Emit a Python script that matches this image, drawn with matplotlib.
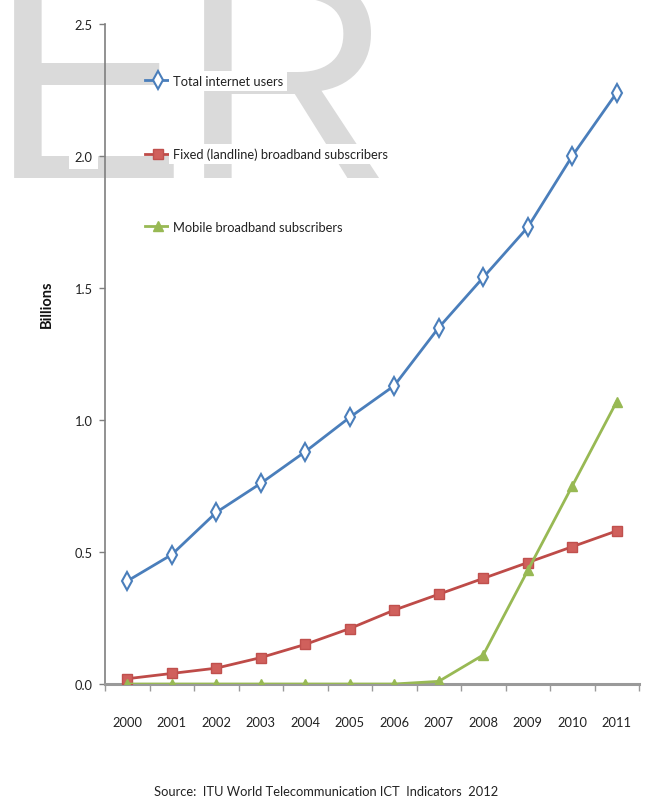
import matplotlib
matplotlib.use("Agg")
import matplotlib.pyplot as plt
import numpy as np

years = ["2000", "2001", "2002", "2003", "2004", "2005", "2006", "2007", "2008", "2009", "2010", "2011"]
total_users = [0.39, 0.49, 0.65, 0.76, 0.88, 1.01, 1.13, 1.35, 1.54, 1.73, 2.00, 2.24]
fixed_bb = [0.02, 0.04, 0.06, 0.10, 0.15, 0.21, 0.28, 0.34, 0.40, 0.46, 0.52, 0.58]
mobile_bb = [0.0, 0.0, 0.0, 0.0, 0.0, 0.0, 0.0, 0.01, 0.11, 0.43, 0.75, 1.07]
series_names = ["Total internet users", "Fixed (landline) broadband subscribers", "Mobile broadband subscribers"]
y_ticks = [0.0, 0.5, 1.0, 1.5, 2.0, 2.5]
source_text = "Source:  ITU World Telecommunication ICT  Indicators  2012"

FONT = ["Lato", "DejaVu Sans"]
plt.rcParams["font.family"] = FONT
FS = 9.3

W, H = 649, 804
fig = plt.figure(figsize=(W / 100, H / 100), dpi=100)
fig.patch.set_facecolor("white")

# watermark letters behind the chart
wm_kw = dict(fontsize=212, color="#dadada", family=["Liberation Sans", "DejaVu Sans"],
             va="baseline", ha="left", zorder=-10)
fig.text(-10 / W, 1 - 178 / H, "E", **wm_kw)
fig.text(180 / W, 1 - 178 / H, "R", **wm_kw)

left, right = 105 / W, 639 / W
top, bottom = 1 - 25 / H, 1 - 685 / H
ax = fig.add_axes([left, bottom, right - left, top - bottom])
ax.set_facecolor("none")

x = np.arange(len(years))
blue, red, green = "#4a7ebb", "#be4b48", "#98b954"
ax.plot(x, total_users, color=blue, lw=2.0, marker="d", ms=9, mfc="white", mec=blue, mew=1.5,
        label=series_names[0], zorder=3)
ax.plot(x, fixed_bb, color=red, lw=2.0, marker="s", ms=7.5, mfc="#d0605c", mec="#c0504d", mew=1.0,
        label=series_names[1], zorder=3)
ax.plot(x, mobile_bb, color=green, lw=2.0, marker="^", ms=7, mfc=green, mec=green,
        label=series_names[2], zorder=4)

ax.set_xlim(-0.5, len(years) - 0.5)
ax.set_ylim(0, 2.5)
ax.set_yticks(y_ticks)
ax.set_yticklabels([f"{v:.1f}" for v in y_ticks])
ax.set_xticks(x)
ax.set_xticklabels(years)
ax.set_xticks(np.arange(-0.5, len(years), 1.0), minor=True)

for s in ["top", "right"]:
    ax.spines[s].set_visible(False)
ax.spines["left"].set_color("#7f7f7f")
ax.spines["left"].set_linewidth(1.2)
ax.spines["bottom"].set_color("#9a9a9a")
ax.spines["bottom"].set_linewidth(2.2)

ax.tick_params(axis="x", which="major", length=0, pad=23, labelsize=FS, labelcolor="#222222")
ax.tick_params(axis="x", which="minor", length=5, width=1, color="#9a9a9a", direction="out")
ax.tick_params(axis="y", which="major", length=4, width=1, color="#7f7f7f", pad=5,
               labelsize=FS, labelcolor="#222222")
for lbl in ax.get_yticklabels():
    lbl.set_bbox(dict(facecolor="white", edgecolor="none", pad=4))

fig.text(47 / W, 1 - 304 / H, "Billions", rotation=90, fontsize=10.5, fontweight="bold",
         ha="center", va="center", color="#111111")

leg = ax.legend(loc="upper left", bbox_to_anchor=((145 / W - left) / (right - left), (1 - 76 / H - bottom) / (top - bottom)),
                frameon=False, fontsize=FS, labelspacing=4.7, handlelength=2.0, handletextpad=0.15,
                borderpad=0, borderaxespad=0)
for t in leg.get_texts():
    t.set_color("#222222")
    t.set_bbox(dict(facecolor="white", edgecolor="none", pad=3))

fig.text(326 / W, 1 - 792 / H, source_text, fontsize=FS, ha="center", va="center", color="#222222")

fig.savefig("out.png", dpi=100, facecolor="white")
